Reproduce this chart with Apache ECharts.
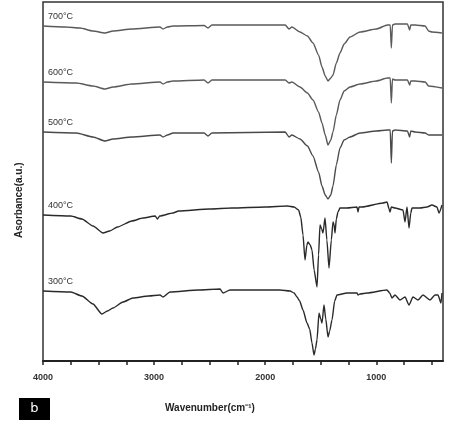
<!DOCTYPE html>
<html>
<head>
<meta charset="utf-8">
<script src="https://cdn.jsdelivr.net/npm/echarts@6/dist/echarts.min.js"></script>
<style>
  html, body { margin: 0; padding: 0; background: #fff; }
  #chart { width: 452px; height: 426px; }
</style>
</head>
<body>
<div id="chart"></div>
<script>
// spectra: [wavenumber, relative absorbance], 0 = baseline at 4000
const spec700 = [[4000,0],[3800,-1],[3667,-2],[3550,-5],[3442,-7],[3370,-5],[3200,-3],[2947,-1],[2920,-3],[2880,-1],[2830,0],[2550,0.5],[2515,-2],[2480,1],[2200,1],[1820,1],[1786,-3],[1760,-1],[1687,-6],[1620,-10],[1570,-17],[1520,-29],[1489,-41],[1460,-50],[1435,-55],[1410,-52],[1390,-49],[1360,-37],[1327,-27],[1290,-18],[1237,-11],[1147,-6],[1000,-3],[900,1],[875,1],[865,-22],[855,1],[832,2],[720,2],[700,-4],[690,1],[650,1],[560,0],[530,-5],[500,-6],[410,-7]]
const spec600 = [[4000,0],[3700,-1],[3550,-4],[3442,-7],[3370,-5],[3200,-2],[2947,0],[2920,-2],[2880,0],[2830,1],[2550,2],[2515,-1],[2480,2],[1820,2],[1786,-1],[1760,0],[1687,-5],[1620,-11],[1570,-18],[1520,-30],[1489,-41],[1460,-53],[1435,-63],[1410,-58],[1390,-50],[1360,-33],[1327,-18],[1290,-9],[1237,-5],[1147,-2],[1000,1],[900,4],[875,4],[865,-21],[855,3],[832,2],[720,2],[700,-3],[690,1],[650,1],[560,0],[530,-4],[409,-6]]
const spec500 = [[4000,0],[3700,-1],[3550,-5],[3442,-9],[3370,-7],[3200,-5],[2947,-3],[2920,-5],[2880,-3],[2830,-1],[2550,-1],[2515,-4],[2480,-1],[1820,0],[1786,-5],[1760,-3],[1687,-7],[1620,-14],[1570,-24],[1520,-40],[1489,-54],[1460,-63],[1435,-67],[1410,-63],[1390,-54],[1360,-33],[1327,-16],[1290,-8],[1237,-5],[1147,-1],[1000,1],[900,2],[875,2],[865,-31],[855,1],[832,2],[720,1],[700,-5],[690,1],[650,0],[560,-1],[530,-3],[409,-3]]
const spec400 = [[4000,0],[3750,-1],[3650,-4],[3550,-11],[3460,-18],[3400,-16],[3330,-12],[3200,-6],[3100,-3],[2990,-1],[2970,-4],[2950,-1],[2830,2],[2780,4],[2500,6],[2300,7],[2000,8],[1800,9],[1740,8],[1700,5],[1680,-2],[1660,-20],[1642,-45],[1625,-30],[1615,-27],[1595,-30],[1579,-35],[1560,-55],[1534,-72],[1520,-40],[1507,-10],[1492,-14],[1480,-18],[1462,-3],[1445,-25],[1426,-53],[1405,-25],[1390,-7],[1380,-10],[1372,-18],[1360,-4],[1345,3],[1327,7],[1264,7],[1174,8],[1165,3],[1156,8],[1129,8],[940,12],[904,13],[885,6],[877,3],[865,8],[832,7],[760,5],[742,-7],[724,8],[706,-13],[690,2],[679,7],[607,7],[544,8],[499,10],[454,8],[436,2],[409,10]]
const spec300 = [[4000,0],[3750,-1],[3650,-5],[3550,-13],[3470,-23],[3420,-20],[3370,-17],[3280,-11],[3190,-7],[3050,-5],[2947,-4],[2920,-6],[2857,-1],[2600,1],[2407,2],[2380,-2],[2317,1],[1867,1],[1777,0],[1740,-2],[1714,-6],[1690,-10],[1660,-19],[1624,-32],[1600,-38],[1579,-52],[1561,-64],[1548,-58],[1534,-49],[1516,-22],[1500,-28],[1489,-32],[1471,-14],[1455,-28],[1435,-46],[1420,-40],[1399,-29],[1375,-10],[1354,-4],[1264,-2],[1174,-2],[1165,-4],[1147,-3],[1084,-2],[904,1],[880,-2],[859,-7],[832,-4],[787,-9],[742,-6],[706,-14],[670,-6],[625,-9],[580,-4],[517,-9],[472,-4],[445,-4],[418,-12],[409,-2]]

const temps = ['700°C', '600°C', '500°C', '400°C', '300°C']
const spectra = [spec700, spec600, spec500, spec400, spec300]
const offsets = [335, 279, 229, 146, 70]
const lineColors = ['#5a5a5a', '#5a5a5a', '#4a4a4a', '#2a2a2a', '#2a2a2a']

const tickValues = [4000, 3750, 3500, 3250, 3000, 2750, 2500, 2250, 2000, 1750, 1500, 1250, 1000, 750, 500]
const labelValues = [4000, 3000, 2000, 1000]

const chart = echarts.init(document.getElementById('chart'))

const series = spectra.map((spec, i) => ({
    name: temps[i],
    type: 'line',
    symbol: 'circle',
    symbolSize: 0,
    showSymbol: true,
    smooth: 0.2,
    smoothMonotone: 'x',
    lineStyle: {color: lineColors[i], width: 1.4},
    itemStyle: {color: lineColors[i]},
    emphasis: {disabled: true},
    data: spec.map((p, j) => {
        const item = {value: [p[0], p[1] + offsets[i]]}
        if (j === 0) {
            item.label = {
                show: true,
                formatter: temps[i],
                position: 'top',
                align: 'left',
                offset: [5, 0],
                distance: 5,
                fontSize: 9,
                fontFamily: 'Liberation Sans',
                color: '#333'
            }
        }
        return item
    })
}))

chart.setOption({
    animation: false,
    grid: {
        left: 43, right: 9, top: 2, bottom: 65,
        show: true,
        borderColor: '#333',
        borderWidth: 1.5
    },
    xAxis: {
        type: 'value',
        min: 400,
        max: 4000,
        inverse: true,
        axisLine: {lineStyle: {color: '#222', width: 2}},
        axisTick: {
            customValues: tickValues,
            length: 4,
            lineStyle: {color: '#222', width: 1.5}
        },
        axisLabel: {
            customValues: labelValues,
            formatter: (v) => String(v),
            margin: 12,
            fontSize: 9,
            fontWeight: 'bold',
            fontFamily: 'Liberation Sans',
            color: '#333'
        },
        splitLine: {show: false}
    },
    yAxis: {
        type: 'value',
        min: 0,
        max: 359,
        show: false
    },
    graphic: [
        {
            type: 'text',
            left: 165, top: 403,
            style: {
                text: 'Wavenumber(cm⁻¹)',
                font: 'bold 10px "Liberation Sans"',
                fill: '#222'
            }
        },
        {
            type: 'text',
            x: 14, y: 238,
            rotation: Math.PI / 2,
            style: {
                text: 'Asorbance(a.u.)',
                font: 'bold 10px "Liberation Sans"',
                fill: '#222'
            }
        },
        {
            type: 'rect',
            shape: {x: 19, y: 398, width: 31, height: 22},
            style: {fill: '#000'}
        },
        {
            type: 'text',
            x: 34.5, y: 409,
            style: {
                text: 'b',
                font: '13px "DejaVu Sans"',
                fill: '#fff',
                align: 'center',
                verticalAlign: 'middle'
            }
        }
    ],
    series: series
})
</script>
</body>
</html>
